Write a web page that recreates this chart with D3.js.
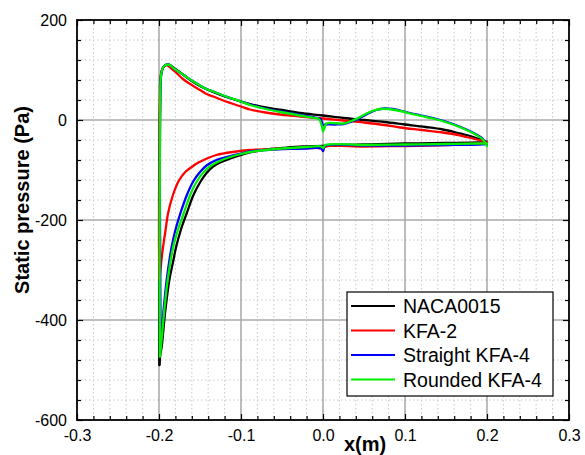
<!DOCTYPE html>
<html>
<head>
<meta charset="utf-8">
<script src="https://cdn.jsdelivr.net/npm/d3@7"></script>
<style>
  html, body { margin: 0; padding: 0; background: #fff; }
  svg { display: block; font-family: Arial, "Liberation Sans", Helvetica, sans-serif; }
</style>
</head>
<body>
<svg id="chart" width="585" height="455"></svg>
<script>
// Static pressure along the chord, x(m) vs p(Pa). Each profile has a
// top branch (leading edge -> trailing edge) and a bottom branch.

const seriesNames = ["NACA0015", "KFA-2", "Straight KFA-4", "Rounded KFA-4"];
const seriesColors = ["#000000", "#ff0000", "#0000ff", "#00ee00"];

const xTicks = [-0.3, -0.2, -0.1, 0.0, 0.1, 0.2, 0.3];
const xTickLabels = ["-0.3", "-0.2", "-0.1", "0.0", "0.1", "0.2", "0.3"];
const yTicks = [200, 0, -200, -400, -600];
const yTickLabels = ["200", "0", "-200", "-400", "-600"];

const nacaTop = [
  [-0.1995, -490], [-0.1995, -300], [-0.199, -100], [-0.1988, 0], [-0.1985, 50],
  [-0.198, 80], [-0.197, 95], [-0.195, 105], [-0.192, 110], [-0.189, 111],
  [-0.186, 109], [-0.18, 102], [-0.17, 90], [-0.16, 78], [-0.15, 68],
  [-0.134, 56], [-0.12, 47], [-0.1, 37], [-0.089, 32], [-0.07, 25],
  [-0.05, 20], [-0.028, 14], [0, 9], [0.025, 4], [0.05, 0], [0.075, -4],
  [0.1, -9], [0.125, -14], [0.146, -19], [0.165, -26], [0.175, -30],
  [0.185, -35], [0.192, -39], [0.1976, -43], [0.2, -44]
];
const nacaBottom = [
  [-0.1995, -490], [-0.1985, -470], [-0.1967, -453], [-0.1927, -387],
  [-0.1874, -320], [-0.183, -285], [-0.179, -253], [-0.173, -218],
  [-0.1663, -187], [-0.158, -150], [-0.15, -125], [-0.142, -106],
  [-0.134, -93], [-0.124, -84], [-0.113, -77], [-0.1, -70], [-0.089, -65],
  [-0.07, -59], [-0.05, -56], [-0.025, -53], [0, -52], [0.05, -49],
  [0.1, -47], [0.15, -46], [0.19, -45], [0.2, -44]
];

const kfa2Top = [
  [-0.1995, -320], [-0.2, -250], [-0.1998, -100], [-0.1995, 0], [-0.199, 50],
  [-0.1985, 80], [-0.197, 97], [-0.195, 105], [-0.192, 109], [-0.19, 109],
  [-0.187, 106], [-0.18, 96], [-0.17, 81], [-0.16, 70], [-0.15, 60],
  [-0.142, 52], [-0.134, 47], [-0.12, 38], [-0.1, 27], [-0.089, 21],
  [-0.07, 15], [-0.052, 11], [-0.028, 7], [0, 3], [0.025, -1], [0.05, -5],
  [0.075, -10], [0.094, -15], [0.12, -20], [0.146, -25], [0.165, -30],
  [0.175, -34], [0.19, -40], [0.2, -44]
];
const kfa2Bottom = [
  [-0.1995, -320], [-0.1985, -305], [-0.197, -280], [-0.195, -253],
  [-0.192, -220], [-0.189, -187], [-0.183, -150], [-0.176, -122],
  [-0.168, -104], [-0.16, -94], [-0.154, -87], [-0.14, -76], [-0.13, -70],
  [-0.11, -64], [-0.089, -60], [-0.06, -58], [-0.03, -57], [-0.002, -57],
  [0, -62], [0.002, -54], [0.05, -53], [0.1, -52], [0.15, -50],
  [0.19, -47], [0.2, -45]
];

const straightTop = [
  [-0.198, -455], [-0.1985, -300], [-0.199, -100], [-0.1988, 0], [-0.1985, 50],
  [-0.198, 80], [-0.197, 95], [-0.195, 105], [-0.192, 110], [-0.189, 111],
  [-0.186, 109], [-0.18, 101], [-0.17, 90], [-0.16, 79], [-0.15, 69],
  [-0.142, 62], [-0.134, 57], [-0.12, 48], [-0.1, 37], [-0.089, 31],
  [-0.07, 23], [-0.052, 17], [-0.028, 10], [-0.01, 5], [-0.003, 2],
  [0, -10], [0.003, -9], [0.015, -9], [0.025, -8], [0.035, -3], [0.045, 4],
  [0.055, 13], [0.065, 20], [0.075, 23], [0.085, 22], [0.094, 19],
  [0.106, 14], [0.12, 9], [0.134, 4], [0.155, -6], [0.175, -19],
  [0.187, -29], [0.1955, -39], [0.2, -50]
];
const straightBottom = [
  [-0.198, -455], [-0.1975, -440], [-0.1948, -387], [-0.1906, -320],
  [-0.1845, -253], [-0.18, -220], [-0.174, -187], [-0.166, -150],
  [-0.158, -122], [-0.15, -104], [-0.142, -91], [-0.13, -80],
  [-0.113, -72], [-0.1, -67], [-0.089, -63], [-0.07, -60],
  [-0.05, -58], [-0.02, -57], [-0.002, -57], [0, -62], [0.002, -52],
  [0.05, -51], [0.1, -51], [0.15, -50], [0.19, -49], [0.2, -48]
];

const roundedTop = [
  [-0.1988, -473], [-0.1992, -300], [-0.199, -100], [-0.1988, 0], [-0.1985, 50],
  [-0.198, 80], [-0.197, 95], [-0.195, 105], [-0.192, 110], [-0.189, 111],
  [-0.186, 109], [-0.18, 101], [-0.17, 90], [-0.16, 79], [-0.15, 69],
  [-0.142, 62], [-0.134, 57], [-0.12, 48], [-0.1, 37], [-0.089, 30],
  [-0.07, 22], [-0.052, 16], [-0.028, 9], [-0.01, 4], [-0.005, 2],
  [-0.001, -15], [0, -23], [0.002, -15], [0.004, -7], [0.025, -7],
  [0.033, -3], [0.043, 4], [0.053, 13], [0.062, 19], [0.07, 22],
  [0.079, 22], [0.094, 18], [0.106, 13], [0.12, 8], [0.134, 3],
  [0.155, -7], [0.175, -20], [0.187, -30], [0.1955, -40], [0.2, -52]
];
const roundedBottom = [
  [-0.1988, -473], [-0.1976, -453], [-0.1939, -387], [-0.1894, -320],
  [-0.1826, -253], [-0.177, -220], [-0.17, -187], [-0.162, -150],
  [-0.154, -123], [-0.146, -105], [-0.138, -93], [-0.126, -82],
  [-0.113, -74], [-0.1, -68], [-0.089, -64], [-0.07, -60], [-0.05, -57],
  [-0.02, -54], [-0.002, -53], [0, -56], [0.003, -50], [0.05, -50],
  [0.1, -49], [0.15, -48], [0.19, -47], [0.2, -47]
];

const seriesTop = [nacaTop, kfa2Top, straightTop, roundedTop];
const seriesBottom = [nacaBottom, kfa2Bottom, straightBottom, roundedBottom];

// ---- layout ----
const svg = d3.select("#chart");
const plot = { left: 77, right: 569, top: 20, bottom: 420 };

const x = d3.scaleLinear().domain([-0.3, 0.3]).range([plot.left, plot.right]);
const y = d3.scaleLinear().domain([-600, 200]).range([plot.bottom, plot.top]);

const xMinor = d3.range(-0.3, 0.3001, 0.02).map(v => +v.toFixed(3))
  .filter(v => !xTicks.some(t => Math.abs(t - v) < 1e-6));
const yMinor = d3.range(-600, 201, 40).filter(v => v % 200 !== 0);

// ---- grid ----
const grid = svg.append("g");
grid.selectAll("line.xminor").data(xMinor).join("line")
  .attr("x1", d => x(d)).attr("x2", d => x(d))
  .attr("y1", plot.top).attr("y2", plot.bottom)
  .attr("stroke", "#c8c8c8").attr("stroke-width", 1).attr("stroke-dasharray", "1.5,2.5");
grid.selectAll("line.yminor").data(yMinor).join("line")
  .attr("x1", plot.left).attr("x2", plot.right)
  .attr("y1", d => y(d)).attr("y2", d => y(d))
  .attr("stroke", "#c8c8c8").attr("stroke-width", 1).attr("stroke-dasharray", "1.5,2.5");
grid.selectAll("line.xmajor").data(xTicks.slice(1, -1)).join("line")
  .attr("x1", d => x(d)).attr("x2", d => x(d))
  .attr("y1", plot.top).attr("y2", plot.bottom)
  .attr("stroke", "#999").attr("stroke-width", 1.3);
grid.selectAll("line.ymajor").data(yTicks.slice(1, -1)).join("line")
  .attr("x1", plot.left).attr("x2", plot.right)
  .attr("y1", d => y(d)).attr("y2", d => y(d))
  .attr("stroke", "#aaa").attr("stroke-width", 1.6);

// ---- curves ----
const line = d3.line().x(d => x(d[0])).y(d => y(d[1])).curve(d3.curveCatmullRom.alpha(0.5));
const curves = svg.append("g").attr("fill", "none")
  .attr("stroke-width", 2.3).attr("stroke-linejoin", "round").attr("stroke-linecap", "round");
seriesNames.forEach((name, i) => {
  curves.append("path").attr("d", line(seriesBottom[i])).attr("stroke", seriesColors[i]);
  curves.append("path").attr("d", line(seriesTop[i])).attr("stroke", seriesColors[i]);
});

// ---- axes (ticks pointing inward on all four sides) ----
const fmtX = d => xTickLabels[xTicks.indexOf(d)];
const fmtY = d => yTickLabels[yTicks.indexOf(d)];

function styleAxis(g) {
  g.selectAll("path.domain").remove();
  g.selectAll("line").attr("stroke", "#000").attr("stroke-width", 1.2);
  g.selectAll("text").attr("font-size", 16).attr("fill", "#000")
    .attr("font-family", "Arial, 'Liberation Sans', sans-serif");
}

svg.append("g").attr("transform", `translate(0,${plot.bottom})`)
  .call(d3.axisBottom(x).tickValues(xTicks).tickFormat(fmtX).tickSize(-6).tickPadding(10))
  .call(styleAxis);
svg.append("g").attr("transform", `translate(0,${plot.bottom})`)
  .call(d3.axisBottom(x).tickValues(xMinor).tickFormat("").tickSize(-4))
  .call(styleAxis);
svg.append("g").attr("transform", `translate(0,${plot.top})`)
  .call(d3.axisTop(x).tickValues(xTicks).tickFormat("").tickSize(-6))
  .call(styleAxis);
svg.append("g").attr("transform", `translate(0,${plot.top})`)
  .call(d3.axisTop(x).tickValues(xMinor).tickFormat("").tickSize(-4))
  .call(styleAxis);
svg.append("g").attr("transform", `translate(${plot.left},0)`)
  .call(d3.axisLeft(y).tickValues(yTicks).tickFormat(fmtY).tickSize(-6).tickPadding(10))
  .call(styleAxis);
svg.append("g").attr("transform", `translate(${plot.left},0)`)
  .call(d3.axisLeft(y).tickValues(yMinor).tickFormat("").tickSize(-4))
  .call(styleAxis);
svg.append("g").attr("transform", `translate(${plot.right},0)`)
  .call(d3.axisRight(y).tickValues(yTicks).tickFormat("").tickSize(-6))
  .call(styleAxis);
svg.append("g").attr("transform", `translate(${plot.right},0)`)
  .call(d3.axisRight(y).tickValues(yMinor).tickFormat("").tickSize(-4))
  .call(styleAxis);

// frame
svg.append("rect")
  .attr("x", plot.left).attr("y", plot.top)
  .attr("width", plot.right - plot.left).attr("height", plot.bottom - plot.top)
  .attr("fill", "none").attr("stroke", "#000").attr("stroke-width", 1.8);

// ---- axis titles ----
svg.append("text")
  .attr("x", 365).attr("y", 451)
  .attr("text-anchor", "middle")
  .attr("font-size", 20).attr("font-weight", "bold")
  .text("x(m)");
svg.append("text")
  .attr("transform", "translate(29,200) rotate(-90)")
  .attr("text-anchor", "middle")
  .attr("font-size", 20).attr("font-weight", "bold")
  .text("Static pressure (Pa)");

// ---- legend ----
const legend = svg.append("g").attr("transform", "translate(347,292)");
legend.append("rect")
  .attr("width", 206).attr("height", 104)
  .attr("fill", "#fff").attr("stroke", "#000").attr("stroke-width", 1.2);
seriesNames.forEach((name, i) => {
  const row = legend.append("g").attr("transform", `translate(0,${14 + i * 24.5})`);
  row.append("line").attr("x1", 4).attr("x2", 48).attr("y1", 0).attr("y2", 0)
    .attr("stroke", seriesColors[i]).attr("stroke-width", 2.2);
  row.append("text").attr("x", 56).attr("y", 0).attr("dy", "0.36em")
    .attr("font-size", 19.5).attr("fill", "#000").text(name);
});
</script>
</body>
</html>
